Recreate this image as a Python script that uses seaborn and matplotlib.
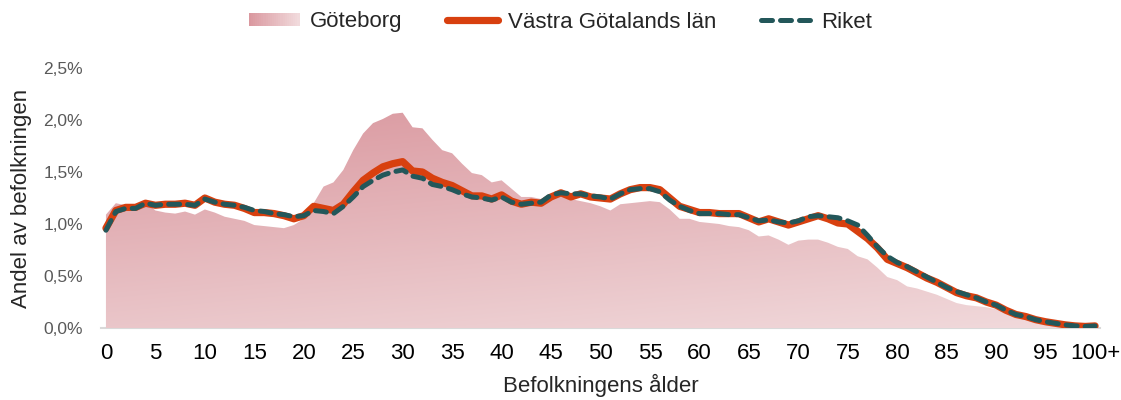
import numpy as np
import pandas as pd
import matplotlib
matplotlib.use("Agg")
import matplotlib.pyplot as plt
import seaborn as sns
from matplotlib.patches import Patch, Rectangle
from matplotlib.lines import Line2D
from matplotlib.legend_handler import HandlerBase
from matplotlib.ticker import FuncFormatter

sns.set_style("white")
plt.rcParams["font.family"] = ["Liberation Sans", "DejaVu Sans"]

# share of population (%) by age 0..100+
ages = list(range(101))
goteborg = [1.09, 1.20, 1.18, 1.17, 1.21, 1.13, 1.11, 1.10, 1.12, 1.09,
            1.14, 1.11, 1.07, 1.05, 1.03, 0.99, 0.98, 0.97, 0.96, 0.99,
            1.05, 1.20, 1.36, 1.40, 1.52, 1.71, 1.87, 1.97, 2.01, 2.06,
            2.07, 1.93, 1.92, 1.81, 1.71, 1.68, 1.58, 1.49, 1.47, 1.40,
            1.42, 1.34, 1.26, 1.26, 1.24, 1.27, 1.29, 1.24, 1.22, 1.20,
            1.17, 1.13, 1.19, 1.20, 1.21, 1.22, 1.21, 1.14, 1.05, 1.05,
            1.02, 1.01, 1.00, 0.98, 0.97, 0.94, 0.88, 0.89, 0.85, 0.80,
            0.84, 0.85, 0.85, 0.82, 0.78, 0.76, 0.69, 0.66, 0.58, 0.49,
            0.46, 0.40, 0.38, 0.35, 0.32, 0.28, 0.24, 0.22, 0.21, 0.20,
            0.18, 0.15, 0.12, 0.10, 0.07, 0.055, 0.04, 0.03, 0.02, 0.015,
            0.02]
vastra_gotaland = [0.96, 1.13, 1.16, 1.16, 1.20, 1.18, 1.19, 1.19, 1.20, 1.18,
                   1.25, 1.21, 1.19, 1.18, 1.15, 1.11, 1.11, 1.10, 1.08, 1.05,
                   1.08, 1.17, 1.15, 1.13, 1.19, 1.31, 1.42, 1.49, 1.55, 1.58,
                   1.60, 1.51, 1.50, 1.44, 1.40, 1.37, 1.32, 1.27, 1.27, 1.24,
                   1.28, 1.22, 1.19, 1.21, 1.20, 1.26, 1.30, 1.26, 1.29, 1.26,
                   1.25, 1.24, 1.29, 1.33, 1.35, 1.35, 1.33, 1.25, 1.17, 1.14,
                   1.11, 1.11, 1.10, 1.10, 1.10, 1.06, 1.02, 1.05, 1.02, 0.99,
                   1.02, 1.05, 1.08, 1.05, 1.01, 1.00, 0.93, 0.86, 0.77, 0.66,
                   0.62, 0.58, 0.53, 0.48, 0.44, 0.39, 0.34, 0.31, 0.29, 0.25,
                   0.22, 0.17, 0.13, 0.11, 0.08, 0.06, 0.045, 0.03, 0.02, 0.015,
                   0.02]
riket = [0.94, 1.12, 1.15, 1.15, 1.20, 1.18, 1.19, 1.19, 1.19, 1.18,
         1.24, 1.21, 1.19, 1.18, 1.16, 1.13, 1.12, 1.10, 1.09, 1.07,
         1.08, 1.13, 1.12, 1.10, 1.17, 1.26, 1.36, 1.42, 1.47, 1.50,
         1.52, 1.46, 1.44, 1.38, 1.36, 1.33, 1.29, 1.26, 1.25, 1.23,
         1.26, 1.21, 1.19, 1.20, 1.21, 1.28, 1.30, 1.29, 1.29, 1.27,
         1.26, 1.24, 1.29, 1.33, 1.34, 1.34, 1.31, 1.23, 1.17, 1.13,
         1.10, 1.10, 1.10, 1.09, 1.09, 1.06, 1.03, 1.04, 1.02, 1.01,
         1.03, 1.07, 1.08, 1.07, 1.06, 1.03, 0.99, 0.89, 0.78, 0.69,
         0.63, 0.59, 0.54, 0.49, 0.44, 0.39, 0.35, 0.32, 0.29, 0.25,
         0.22, 0.17, 0.13, 0.11, 0.08, 0.06, 0.045, 0.03, 0.02, 0.015,
         0.02]
xticks = list(range(0, 101, 5))
xticklabels = [str(t) for t in xticks[:-1]] + ["100+"]
yticks = [0.0, 0.5, 1.0, 1.5, 2.0, 2.5]

df = pd.DataFrame({"age": ages, "Göteborg": goteborg,
                   "Västra Götalands län": vastra_gotaland, "Riket": riket})

ORANGE = "#d8400f"
TEAL = "#23575a"
DARK = np.array([218, 152, 159]) / 255
LIGHT = np.array([241, 218, 220]) / 255


class GradientHandler(HandlerBase):
    # legend key drawn as a left-to-right fading pink box
    def create_artists(self, legend, orig_handle, xdescent, ydescent,
                       width, height, fontsize, trans):
        n = 24
        out = []
        for i in range(n):
            c = DARK + (LIGHT - DARK) * i / (n - 1)
            out.append(Rectangle((-xdescent + width * i / n, -ydescent),
                                 width / n * 1.08, height, facecolor=c,
                                 edgecolor="none", transform=trans))
        return out


fig = plt.figure(figsize=(11.21, 4.0), dpi=100)
ax = fig.add_axes([101 / 1121, 1 - 328 / 400, 999 / 1121, 260 / 400])

# gradient filled area for Göteborg
poly = ax.fill_between(df["age"], 0, df["Göteborg"], color="none", lw=0)
gx, gy = np.meshgrid(np.linspace(-0.5, 100.5, 200), np.linspace(0, 2.5, 200))
t = np.clip(0.7 * gy / 2.1 + 0.3 * (1 - gx / 100), 0, 1)
grad = LIGHT[None, None, :] + t[..., None] * (DARK - LIGHT)[None, None, :]
img = ax.imshow(grad, extent=[-0.5, 100.5, 0, 2.5], origin="lower",
                aspect="auto", zorder=1, interpolation="bilinear")
img.set_clip_path(poly.get_paths()[0], transform=ax.transData)

sns.lineplot(data=df, x="age", y="Västra Götalands län", ax=ax, color=ORANGE,
             lw=5.2, zorder=3, solid_capstyle="round")
sns.lineplot(data=df, x="age", y="Riket", ax=ax, color=TEAL, lw=3.6,
             zorder=4, dashes=False)
ax.lines[-1].set_dashes([2.2, 1.6])
ax.lines[-1].set_dash_capstyle("round")

ax.set_xlim(-0.5, 100.5)
ax.set_ylim(0, 2.5)
ax.set_xticks(xticks)
ax.set_xticklabels(xticklabels)
ax.set_yticks(yticks)
ax.yaxis.set_major_formatter(FuncFormatter(lambda v, p: f"{v:.1f}%".replace(".", ",")))
ax.tick_params(axis="x", length=0, pad=11, labelsize=16, labelcolor="black")
ax.tick_params(axis="y", length=0, pad=13, labelsize=12.5, labelcolor="#595959")

sns.despine(ax=ax, left=True)
ax.spines["bottom"].set_color("#d9d9d9")
ax.spines["bottom"].set_linewidth(1.5)
ax.spines["bottom"].set_zorder(0)

ax.set_xlabel("Befolkningens ålder", fontsize=16)
ax.set_ylabel("Andel av befolkningen", fontsize=16)
ax.xaxis.set_label_coords(0.5, -0.177)
ax.yaxis.set_label_coords(-0.069, 0.5)

gbg_key = Patch(facecolor="#e6bcc0", edgecolor="none")
handles = [
    gbg_key,
    Line2D([], [], color=ORANGE, lw=5.2, solid_capstyle="round"),
    Line2D([], [], color=TEAL, lw=3.6, dashes=[2.2, 1.6], dash_capstyle="round"),
]
labels = ["Göteborg", "Västra Götalands län", "Riket"]
fig.legend(handles, labels, loc="center", bbox_to_anchor=(0.5, 1 - 22 / 400),
           ncol=3, frameon=False, fontsize=16, handlelength=2.3,
           handleheight=0.5, handletextpad=0.45, columnspacing=2.0,
           handler_map={gbg_key: GradientHandler()})

fig.savefig("out.png", dpi=100)
